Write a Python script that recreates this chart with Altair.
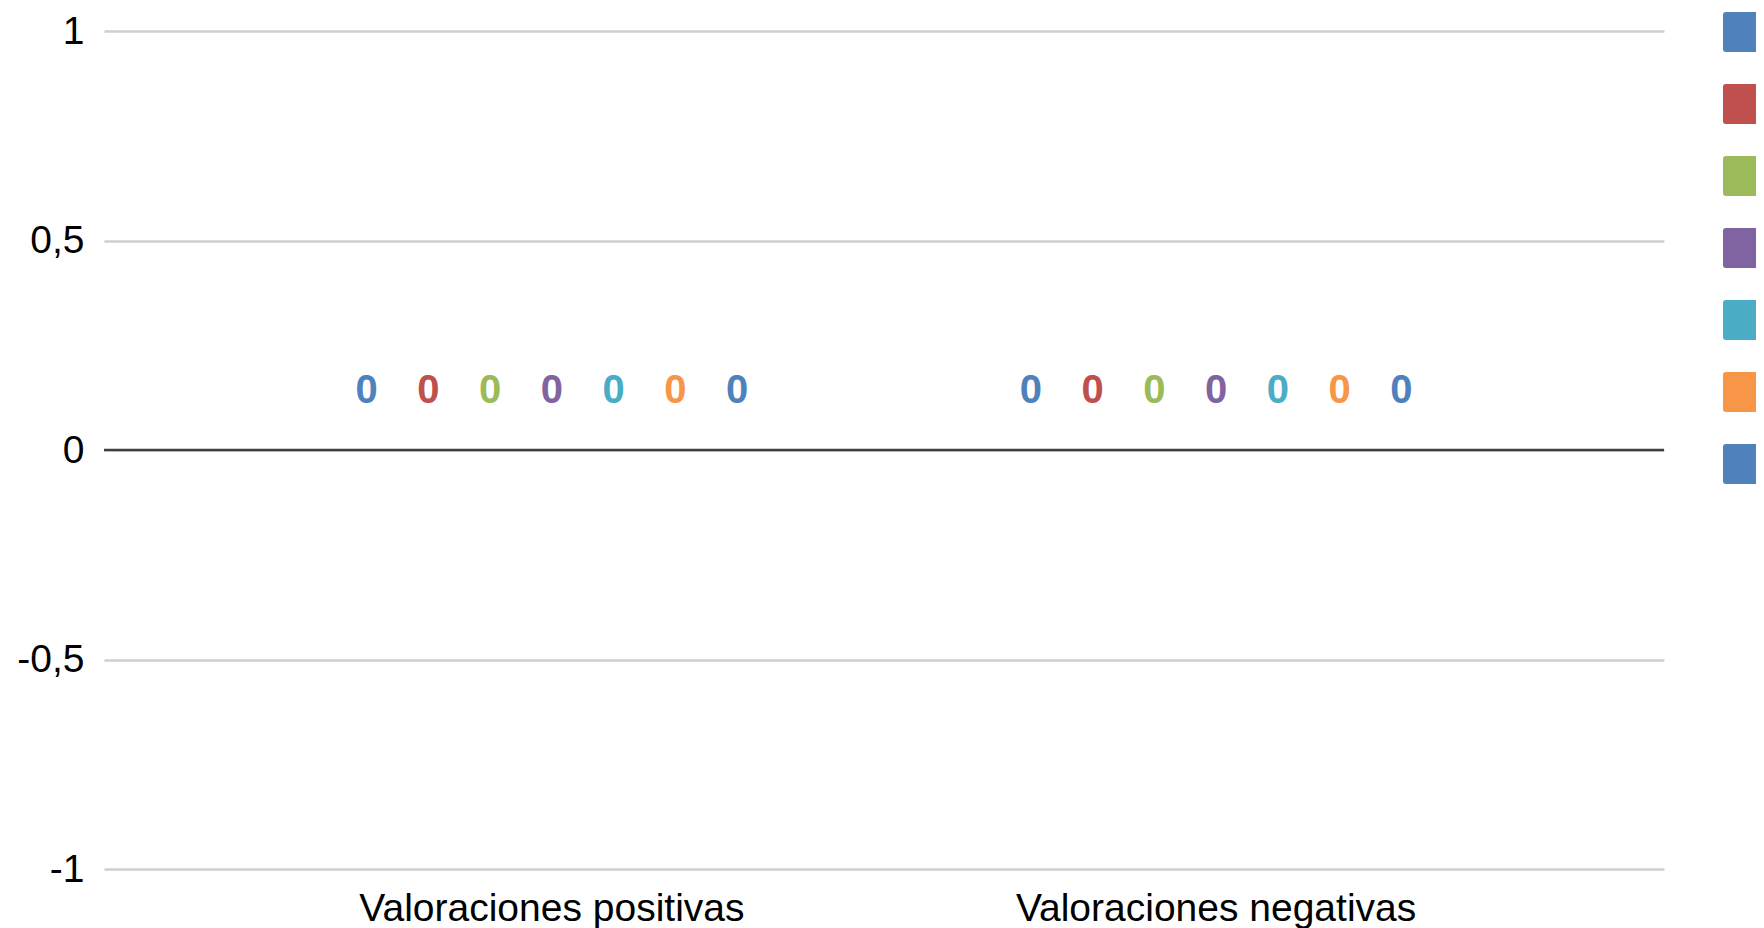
import altair as alt
import pandas as pd

categories = ["Valoraciones positivas", "Valoraciones negativas"]
series = ["S1", "S2", "S3", "S4", "S5", "S6", "S7"]
values_positivas = [0, 0, 0, 0, 0, 0, 0]
values_negativas = [0, 0, 0, 0, 0, 0, 0]
colors = ["#4F81BD", "#C0504D", "#9BBB59", "#8064A2", "#4BACC6", "#F79646", "#4F81BD"]
y_ticks = [-1, -0.5, 0, 0.5, 1]

rows = []
for cat, vals in zip(categories, [values_positivas, values_negativas]):
    for s, v in zip(series, vals):
        rows.append({"cat": cat, "serie": s, "valor": v})
df = pd.DataFrame(rows)

FONT = "Liberation Sans"
rounded_square = ("M-0.85,-1L0.85,-1Q1,-1,1,-0.85L1,0.85Q1,1,0.85,1L-0.85,1"
                  "Q-1,1,-1,0.85L-1,-0.85Q-1,-1,-0.85,-1Z")

x_enc = alt.X("cat:N", sort=categories,
              scale=alt.Scale(paddingOuter=0.349, paddingInner=0.349),
              axis=alt.Axis(title=None, labelAngle=0, labelFontSize=39, labelFont=FONT,
                            labelColor="#000000", domain=False, ticks=False,
                            labelPadding=20, grid=False, labelLimit=0))
xoff_enc = alt.XOffset("serie:N", sort=series,
                       scale=alt.Scale(paddingOuter=0, paddingInner=0))
y_enc = alt.Y("valor:Q",
              scale=alt.Scale(domain=[-1, 1], nice=False, zero=False),
              axis=alt.Axis(title=None, values=y_ticks, labelFontSize=39, labelFont=FONT,
                            labelColor="#000000", domain=False, ticks=False,
                            labelPadding=20, gridColor="#cfcfcf", gridWidth=2.5,
                            labelExpr="replace(toString(datum.value), '.', ',')"))
color_enc = alt.Color("serie:N", sort=series,
                      scale=alt.Scale(domain=series, range=colors),
                      legend=alt.Legend(orient="none", legendX=1619, legendY=-19,
                                        title=None, labelExpr="''", labelFontSize=10,
                                        symbolType=rounded_square, symbolSize=1600,
                                        symbolStrokeWidth=0, rowPadding=32,
                                        padding=0, symbolOpacity=1))

bars = alt.Chart(df).mark_bar().encode(x=x_enc, xOffset=xoff_enc, y=y_enc,
                                       y2=alt.datum(0), color=color_enc)

labels = alt.Chart(df).mark_text(dy=-59, fontSize=40, fontWeight="bold", font=FONT,
                                 baseline="middle", align="center").encode(
    x=x_enc, xOffset=xoff_enc, y=y_enc, color=color_enc, text=alt.Text("valor:Q"))

zero = alt.Chart(pd.DataFrame({"z": [0]})).mark_rule(color="#404040", strokeWidth=2.5).encode(
    y=alt.Y("z:Q"))

chart = alt.layer(bars, zero, labels).properties(
    width=1560, height=838,
    autosize=alt.AutoSizeParams(type="none"),
    padding={"left": 96, "top": 23, "right": 92, "bottom": 64},
).configure_view(stroke=None)

chart.save("out.html", embed_options={"renderer": "svg", "actions": False})
